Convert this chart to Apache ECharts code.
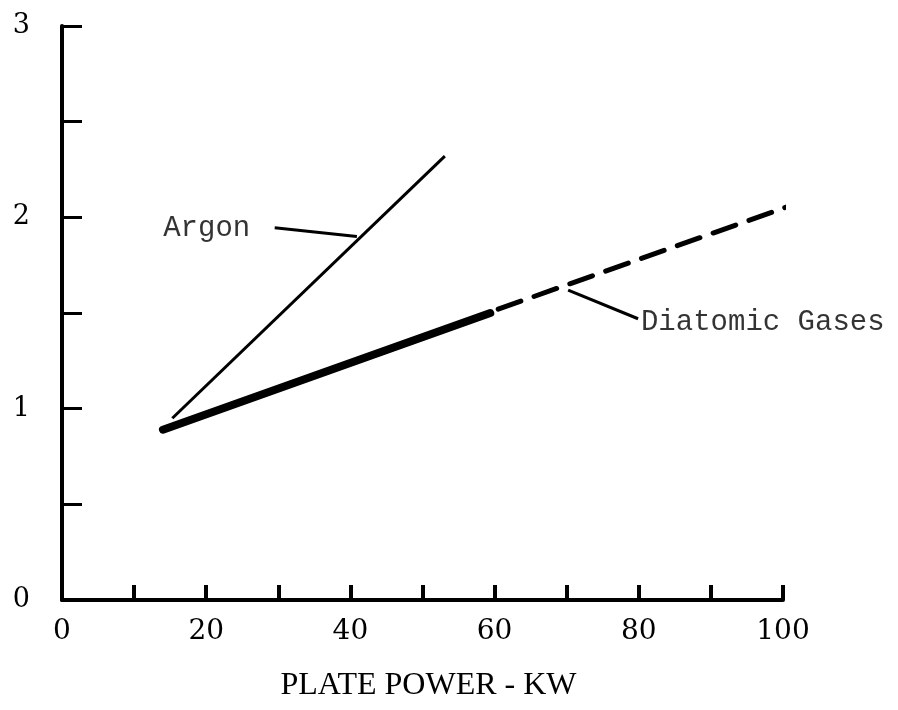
<!DOCTYPE html>
<html>
<head>
<meta charset="utf-8">
<script src="https://cdn.jsdelivr.net/npm/echarts@6/dist/echarts.min.js"></script>
<style>
  html, body { margin: 0; padding: 0; background: #fff; }
  #chart1 { width: 898px; height: 710px; }
</style>
</head>
<body>
<div id="chart1"></div>
<script>
// data
var argon = [[15.3, 0.95], [53.1, 2.32]];
var diatomicSolid = [[14.0, 0.89], [59.4, 1.50]];
var diatomicDashed = [[60.5, 1.52], [101.7, 2.07]];
var argonLeader = [[29.5, 1.945], [40.9, 1.90]];
var diatomicLeader = [[70.2, 1.62], [79.9, 1.47]];
var argonLabel = [[26.1, 1.94]];
var diatomicLabel = [[80.3, 1.45]];
var yTickLabels = ['0', '1', '2', '3'];

var chart1 = echarts.init(document.getElementById('chart1'));

var option1 = {
    backgroundColor: '#fff',
    animation: false,
    grid: { left: 62, right: 115, top: 26, bottom: 110 },
    xAxis: {
        type: 'value',
        min: 0, max: 100, interval: 10,
        name: 'PLATE POWER - KW',
        nameLocation: 'middle',
        nameGap: 70,
        nameTextStyle: { color: '#000', fontFamily: 'Liberation Serif', fontSize: 32, padding: [0, 0, 0, 12] },
        axisLine: { onZero: false, lineStyle: { color: '#000', width: 4 } },
        axisTick: { inside: true, length: 15, lineStyle: { color: '#000', width: 4 } },
        axisLabel: {
            color: '#000', fontFamily: 'DejaVu Serif', fontSize: 28, margin: 18,
            formatter: function (v) { return v % 20 === 0 ? String(v) : ''; }
        },
        splitLine: { show: false }
    },
    yAxis: {
        type: 'value',
        min: 0, max: 3, interval: 0.5,
        axisLine: { onZero: false, lineStyle: { color: '#000', width: 4 } },
        axisTick: { inside: true, length: 20, lineStyle: { color: '#000', width: 3 } },
        axisLabel: {
            color: '#000', fontFamily: 'DejaVu Serif', fontSize: 27, margin: 32,
            formatter: function (v) { return v % 1 === 0 ? yTickLabels[v] : ''; }
        },
        splitLine: { show: false }
    },
    series: [
        {
            name: 'Argon', type: 'line', data: argon, symbol: 'none', clip: false,
            lineStyle: { color: '#000', width: 3 }
        },
        {
            name: 'Diatomic', type: 'line', data: diatomicSolid, symbol: 'none', clip: false,
            lineStyle: { color: '#000', width: 8, cap: 'round' }
        },
        {
            name: 'Diatomic ext', type: 'line', data: diatomicDashed, symbol: 'none', clip: false,
            lineStyle: { color: '#000', width: 5, type: [24, 14], cap: 'round' }
        },
        {
            type: 'line', data: argonLeader, symbol: 'none', clip: false,
            lineStyle: { color: '#000', width: 3 }
        },
        {
            type: 'line', data: diatomicLeader, symbol: 'none', clip: false,
            lineStyle: { color: '#000', width: 3 }
        },
        {
            type: 'scatter', data: argonLabel, symbolSize: 0, clip: false,
            label: {
                show: true, position: 'left', distance: 0, formatter: 'Argon',
                color: '#000', fontFamily: 'Liberation Mono', fontSize: 29
            }
        },
        {
            type: 'scatter', data: diatomicLabel, symbolSize: 0, clip: false,
            label: {
                show: true, position: 'right', distance: 0, formatter: 'Diatomic Gases',
                color: '#000', fontFamily: 'Liberation Mono', fontSize: 29
            }
        }
    ]
};

chart1.setOption(option1);

window.onresize = function () {
    chart1.resize();
};
</script>
</body>
</html>
